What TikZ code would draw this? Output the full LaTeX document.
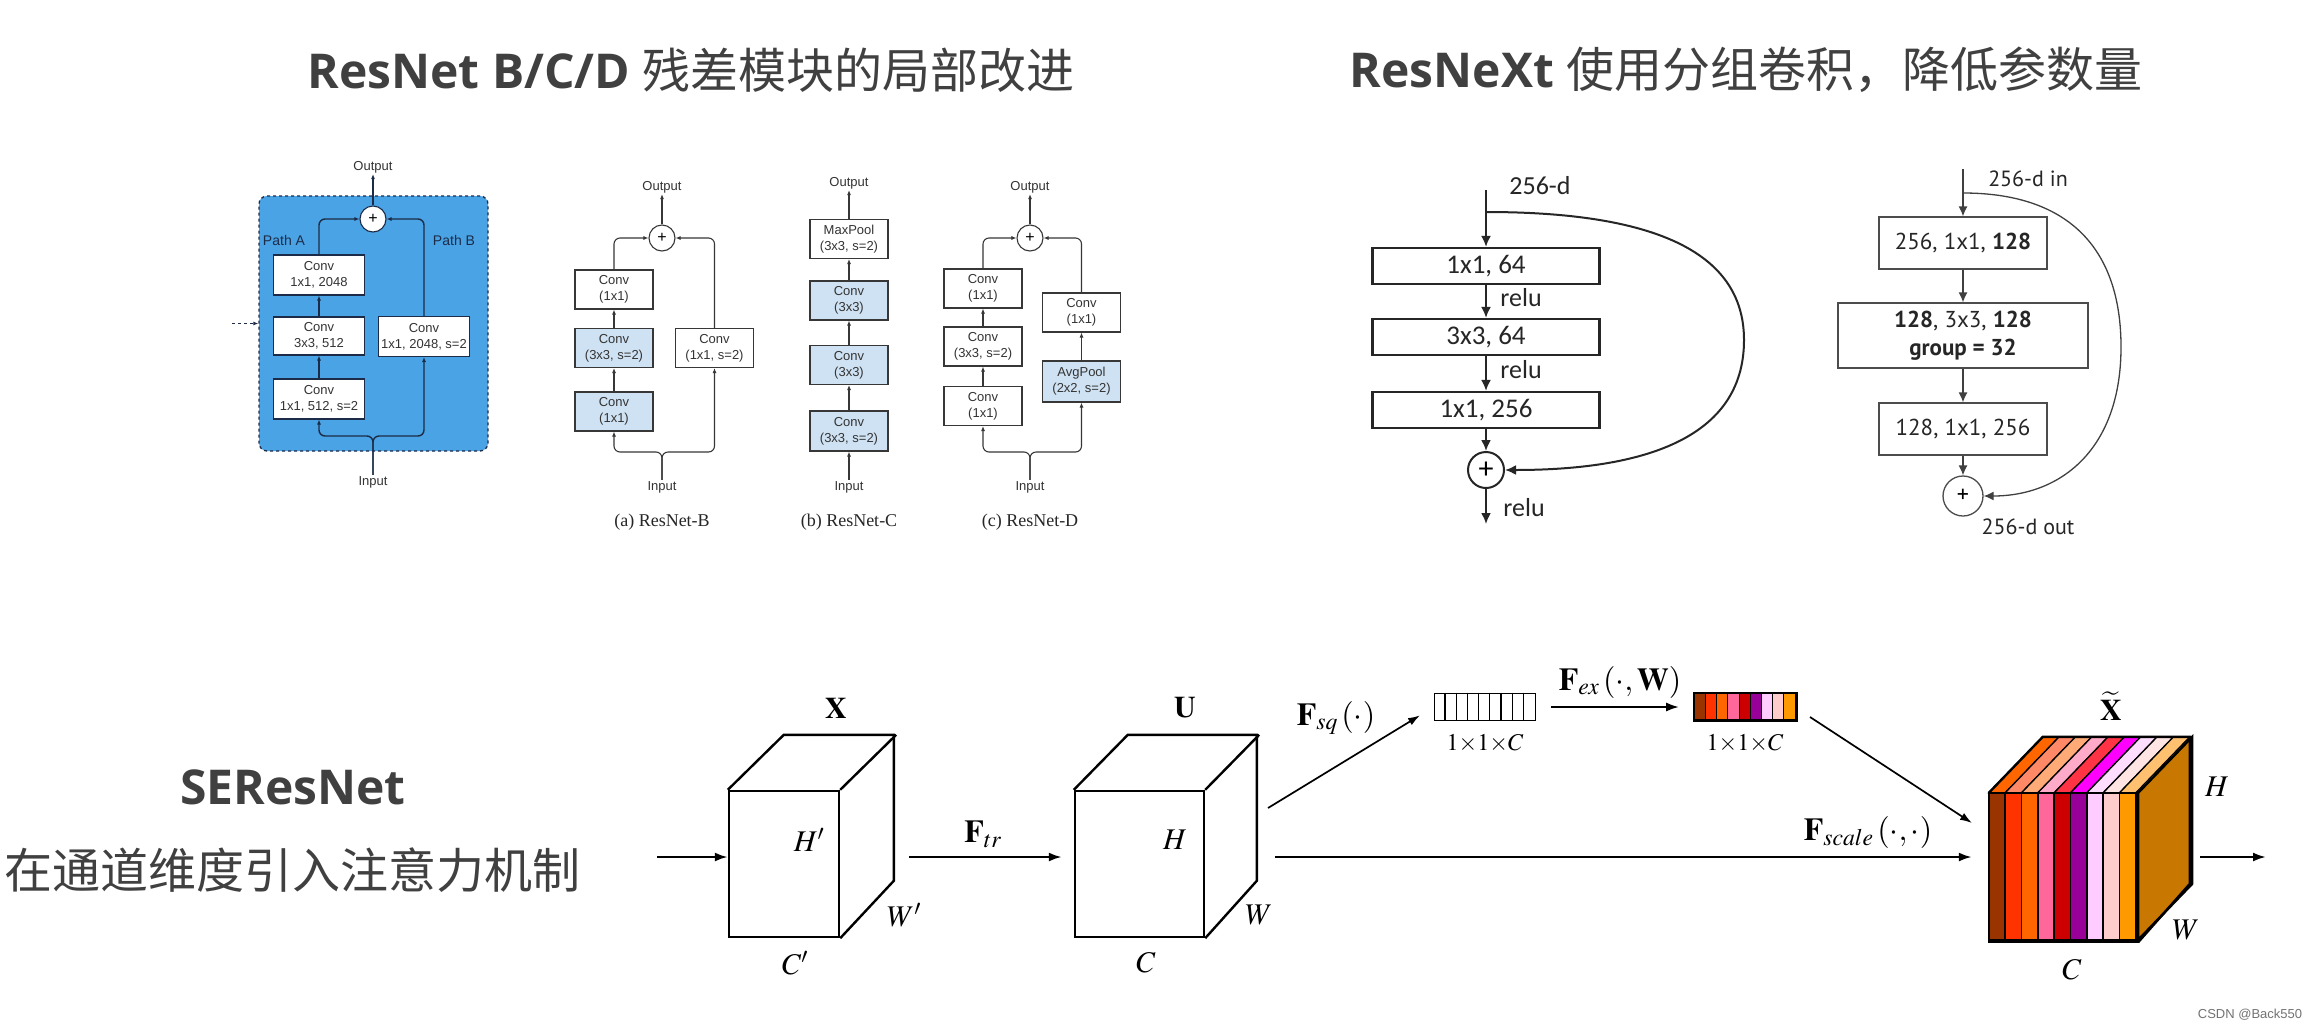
\documentclass[tikz,border=0pt]{standalone}
\usepackage{mathptmx}
\usepackage{fontspec}
\setmainfont{Liberation Serif}
\setsansfont{Liberation Sans}
\newfontfamily\cjk{Noto Sans CJK SC}
\newfontfamily\osans{Open Sans}
\newfontfamily\carl{Carlito}
\newfontfamily\ptsans{PT Sans}
\usetikzlibrary{arrows.meta, positioning, calc}

\definecolor{titlegray}{RGB}{64,64,64}
\definecolor{navy}{RGB}{28,44,72}
\definecolor{blockblue}{RGB}{74,163,229}
\definecolor{boxline}{RGB}{55,55,55}
\definecolor{boxblue}{RGB}{207,226,243}
\definecolor{rightface}{RGB}{200,120,0}
% front stripes / excitation vector
\definecolor{sca}{RGB}{153,51,0}
\definecolor{scb}{RGB}{255,51,0}
\definecolor{scc}{RGB}{255,102,0}
\definecolor{scd}{RGB}{255,102,153}
\definecolor{sce}{RGB}{204,0,0}
\definecolor{scf}{RGB}{153,0,153}
\definecolor{scg}{RGB}{255,204,255}
\definecolor{sch}{RGB}{255,204,204}
\definecolor{sci}{RGB}{255,153,0}
% top stripes
\definecolor{sta}{RGB}{255,102,0}
\definecolor{stb}{RGB}{255,136,102}
\definecolor{stc}{RGB}{255,170,119}
\definecolor{std}{RGB}{255,170,200}
\definecolor{ste}{RGB}{255,51,68}
\definecolor{stf}{RGB}{255,0,255}
\definecolor{stg}{RGB}{255,221,255}
\definecolor{sth}{RGB}{255,228,228}
\definecolor{sti}{RGB}{255,192,112}

\begin{document}
\begin{tikzpicture}[x=1pt, y=-1pt,
    ttl/.style={font=\fontsize{48}{52}\selectfont, text=titlegray, inner sep=0},
    blk/.style={rectangle, draw=navy, dashed, line width=1.3, fill=blockblue, rounded corners=8},
    conv/.style={rectangle, draw=boxline, line width=1.1, fill=white, minimum width=78, minimum height=39, inner sep=1, align=center, text=black!80, font=\sffamily\fontsize{13}{16}\selectfont},
    convb/.style={conv, fill=boxblue},
    conva/.style={conv, draw=navy, minimum width=91, minimum height=40},
    sumnode/.style={circle, draw=boxline, line width=1.1, fill=white, minimum size=26, inner sep=0, font=\sffamily\fontsize{16}{16}\selectfont},
    io/.style={inner sep=1, text=black!80, font=\sffamily\fontsize{13}{15}\selectfont},
    pathlbl/.style={inner sep=1, text=navy, font=\sffamily\fontsize{14}{16}\selectfont},
    captxt/.style={inner sep=1, text=black!85, font=\fontsize{18}{20}\selectfont},
    arrow/.style={-{Latex[length=5,width=4]}, line width=1.1, draw=boxline},
    navyarrow/.style={arrow, draw=navy, line width=1.4},
    xbox/.style={rectangle, draw=black!85, line width=2.2, minimum width=227, minimum height=36, inner sep=0, text=black!85, font=\carl\fontsize{27}{30}\selectfont},
    xsum/.style={circle, draw=black!85, line width=2, fill=white, minimum size=36, inner sep=0, font=\carl\fontsize{30}{30}\selectfont},
    xlbl/.style={inner sep=1, text=black!85, font=\carl\fontsize{26}{28}\selectfont},
    xarrow/.style={-{Latex[length=11,width=10]}, line width=2, draw=black!85},
    gbox/.style={rectangle, draw=black!70, line width=1.3, minimum width=168, minimum height=52, inner sep=2, align=center, text=black!85, font=\ptsans\fontsize{23}{28}\selectfont},
    gsum/.style={circle, draw=black!70, line width=1.3, fill=white, minimum size=40, inner sep=0, font=\ptsans\fontsize{24}{24}\selectfont},
    glbl/.style={inner sep=1, text=black!85, font=\ptsans\fontsize{22}{24}\selectfont},
    garrow/.style={-{Latex[length=10,width=9]}, line width=1.3, draw=black!75},
    face/.style={rectangle, draw=black, line width=2.4, fill=white, inner sep=0},
    vec/.style={rectangle, draw=black, line width=1.6, minimum width=101, minimum height=27, inner sep=0},
    cube/.style={draw=black, line width=2.4, line join=miter},
    searrow/.style={-{Latex[length=13,width=9]}, line width=2.3},
    thinarrow/.style={-{Latex[length=12,width=8]}, line width=1.7},
    selbl/.style={inner sep=0, font=\fontsize{30}{32}\selectfont},
    flbl/.style={inner sep=0, font=\fontsize{32}{34}\selectfont},
    dimlbl/.style={inner sep=0, font=\fontsize{24}{26}\selectfont}
  ]
  \useasboundingbox[fill=white] (0,0) rectangle (2313,1029);

  % titles
  \node[ttl] (ttlres) at (691,70) {{\osans\bfseries ResNet B/C/D} {\cjk 残差模块的局部改进}};
  \node[ttl] (ttlnext) at (1746,70) {{\osans\bfseries ResNeXt} {\cjk 使用分组卷积，降低参数量}};
  \node[ttl] (ttlse) at (293,787) {\osans\bfseries SEResNet};
  \node[ttl] (subse) at (293,870) {\cjk 在通道维度引入注意力机制};

  % block with path A / path B
  \node[blk, minimum width=229, minimum height=255] (blkA) at (373.5,323.5) {};
  \node[conva] (pa3) at (319,275) {Conv\\1x1, 2048};
  \node[conva, minimum height=38] (pa2) at (319,336) {Conv\\3x3, 512};
  \node[conva] (pa1) at (319,399) {Conv\\1x1, 512, s=2};
  \node[conva] (pb1) at (424,336.5) {Conv\\1x1, 2048, s=2};
  \node[sumnode, draw=navy] (sumA) at (373,219) {+};
  \node[pathlbl] (plA) at (284,240) {Path A};
  \node[pathlbl] (plB) at (454,240) {Path B};
  \node[io] (outA) at (373,167) {Output};
  \node[io] (inA) at (373,482) {Input};
  \coordinate (brA) at (373,436);
  \coordinate (dashA) at (232,323.5);
  \draw[navyarrow] (pa1) -- (pa2);
  \draw[navyarrow] (pa2) -- (pa3);
  \draw[navyarrow, rounded corners=6] (pa3.north) |- (sumA.west);
  \draw[navyarrow, rounded corners=6] (pb1.north) |- (sumA.east);
  \draw[navyarrow] (sumA) -- (outA);
  \draw[navyarrow, rounded corners=6] (inA.north) -- (brA) -| (pa1.south);
  \draw[navyarrow, rounded corners=6] (inA.north) -- (brA) -| (pb1.south);
  \draw[navyarrow, dashed] (dashA) -- (blkA.west);

  % ResNet-B
  \node[convb] (b1) at (614,411.5) {Conv\\(1x1)};
  \node[convb] (b2) at (614,348) {Conv\\(3x3, s=2)};
  \node[conv] (b3) at (614,289.5) {Conv\\(1x1)};
  \node[conv] (b4) at (714.5,348) {Conv\\(1x1, s=2)};
  \node[sumnode] (sumB) at (662,238) {+};
  \node[io] (outB) at (662,187) {Output};
  \node[io] (inB) at (662,487) {Input};
  \node[captxt] (capB) at (662,522) {(a) ResNet-B};
  \coordinate (brB) at (662,452);
  \draw[arrow] (b1) -- (b2);
  \draw[arrow] (b2) -- (b3);
  \draw[arrow, rounded corners=6] (b3.north) |- (sumB.west);
  \draw[arrow, rounded corners=6] (b4.north) |- (sumB.east);
  \draw[arrow] (sumB) -- (outB);
  \draw[arrow, rounded corners=6] (inB.north) -- (brB) -| (b1.south);
  \draw[arrow, rounded corners=6] (inB.north) -- (brB) -| (b4.south);

  % ResNet-C
  \node[convb, minimum height=40] (c1) at (849,431) {Conv\\(3x3, s=2)};
  \node[convb] (c2) at (849,365) {Conv\\(3x3)};
  \node[convb] (c3) at (849,300.5) {Conv\\(3x3)};
  \node[conv] (c4) at (849,239) {MaxPool\\(3x3, s=2)};
  \node[io] (outC) at (849,183) {Output};
  \node[io] (inC) at (849,487) {Input};
  \node[captxt] (capC) at (849,522) {(b) ResNet-C};
  \draw[arrow] (inC) -- (c1);
  \draw[arrow] (c1) -- (c2);
  \draw[arrow] (c2) -- (c3);
  \draw[arrow] (c3) -- (c4);
  \draw[arrow] (c4) -- (outC);

  % ResNet-D
  \node[conv] (d1) at (983,406) {Conv\\(1x1)};
  \node[conv] (d2) at (983,346.5) {Conv\\(3x3, s=2)};
  \node[conv] (d3) at (983,288.5) {Conv\\(1x1)};
  \node[convb, minimum height=41] (d4) at (1081.5,381.5) {AvgPool\\(2x2, s=2)};
  \node[conv] (d5) at (1081.5,312.5) {Conv\\(1x1)};
  \node[sumnode] (sumD) at (1030,238) {+};
  \node[io] (outD) at (1030,187) {Output};
  \node[io] (inD) at (1030,487) {Input};
  \node[captxt] (capD) at (1030,522) {(c) ResNet-D};
  \coordinate (brD) at (1030,452);
  \draw[arrow] (d1) -- (d2);
  \draw[arrow] (d2) -- (d3);
  \draw[arrow] (d4) -- (d5);
  \draw[arrow, rounded corners=6] (d3.north) |- (sumD.west);
  \draw[arrow, rounded corners=6] (d5.north) |- (sumD.east);
  \draw[arrow] (sumD) -- (outD);
  \draw[arrow, rounded corners=6] (inD.north) -- (brD) -| (d1.south);
  \draw[arrow, rounded corners=6] (inD.north) -- (brD) -| (d4.south);

  % ResNet bottleneck (ResNeXt left)
  \node[xbox] (x1) at (1486,266) {1x1, 64};
  \node[xbox] (x2) at (1486,337) {3x3, 64};
  \node[xbox] (x3) at (1486,410) {1x1, 256};
  \node[xsum] (sumX) at (1486,470) {+};
  \coordinate (xtop) at (1486,190);
  \coordinate (xsplit) at (1486,212);
  \coordinate (xout) at (1486,524);
  \node[xlbl] (xin) at (1540,186) {256-d};
  \node[xlbl] (relu1) at (1521,298) {relu};
  \node[xlbl] (relu2) at (1521,370) {relu};
  \node[xlbl] (relu3) at (1524,508) {relu};
  \draw[xarrow] (xtop) -- (x1);
  \draw[xarrow] (x1) -- (x2);
  \draw[xarrow] (x2) -- (x3);
  \draw[xarrow] (x3) -- (sumX);
  \draw[xarrow] (sumX) -- (xout);
  \draw[xarrow] (xsplit) .. controls (1650,212) and (1744,250) .. (1744,340)
    .. controls (1744,440) and (1640,470) .. (sumX.east);

  % ResNeXt block
  \node[gbox] (y1) at (1963,243) {256, 1x1, \textbf{128}};
  \node[gbox, minimum width=250, minimum height=65] (y2) at (1963,335.5) {\textbf{128}, 3x3, \textbf{128}\\\textbf{group = 32}};
  \node[gbox] (y3) at (1963,429) {128, 1x1, 256};
  \node[gsum] (sumY) at (1963,496) {+};
  \coordinate (ytop) at (1963,169);
  \coordinate (ysplit) at (1963,193);
  \node[glbl] (yin) at (2028,179) {256-d in};
  \node[glbl] (yout) at (2028,527) {256-d out};
  \draw[garrow] (ytop) -- (y1);
  \draw[garrow] (y1) -- (y2);
  \draw[garrow] (y2) -- (y3);
  \draw[garrow] (y3) -- (sumY);
  \draw[garrow] (ysplit) .. controls (2070,193) and (2121,250) .. (2121,347)
    .. controls (2121,450) and (2060,496) .. (sumY.east);

  % SE block
  \node[face, minimum width=110, minimum height=146] (Xf) at (784,864) {};
  \draw[cube] (Xf.north west) -- ++(56,-55) -- ++(110,0) -- ++(0,146) -- (Xf.south east);
  \draw[cube] (Xf.north east) -- ++(56,-55);
  \node[face, minimum width=129, minimum height=146] (Uf) at (1139.5,864) {};
  \draw[cube] (Uf.north west) -- ++(54,-55) -- ++(129,0) -- ++(0,146) -- (Uf.south east);
  \draw[cube] (Uf.north east) -- ++(54,-55);

  \node[face, draw=none, minimum width=147, minimum height=147] (Xtf) at (2063.5,867.5) {};
  \filldraw[cube, fill=rightface] (Xtf.north east) -- ++(54,-56) -- ++(0,147) -- ++(-54,56) -- cycle;
  \foreach \c [count=\i from 0] in {sta,stb,stc,std,ste,stf,stg,sth,sti}
    \filldraw[fill=\c, draw=black, line width=1.3] ($(Xtf.north west)+(\i*16.333,0)$) -- ++(16.333,0) -- ++(54,-56) -- ++(-16.333,0) -- cycle;
  \foreach \c [count=\i from 0] in {sca,scb,scc,scd,sce,scf,scg,sch,sci}
    \filldraw[fill=\c, draw=black, line width=1.5] ($(Xtf.north west)+(\i*16.333,0)$) rectangle ++(16.333,147);
  \draw[cube] (Xtf.north west) rectangle (Xtf.south east);
  \draw[cube] (Xtf.north west) -- ++(54,-56) -- ++(147,0) -- ++(0,147) -- (Xtf.south east);

  \node[vec] (zsq) at (1485,707) {};
  \foreach \i in {1,...,8}
    \draw[line width=1.2] ($(zsq.north west)+(\i*11.222,0)$) -- ++(0,27);
  \node[vec] (sex) at (1745.5,707) {};
  \foreach \c [count=\i from 0] in {sca,scb,scc,scd,sce,scf,scg,sch,sci}
    \filldraw[fill=\c, draw=black, line width=1] ($(sex.north west)+(\i*11.222,0)$) rectangle ++(11.222,27);
  \draw[line width=1.6] (sex.north west) rectangle (sex.south east);

  \coordinate (sein) at (657,857);
  \coordinate (trs) at (909,857);
  \coordinate (sqs) at (1268,808);
  \coordinate (scs) at (1275,857);
  \coordinate (exs) at (1810,717);
  \coordinate (exe) at (1972,823);
  \coordinate (seo) at (2200,857);
  \coordinate (seout) at (2266,857);
  \draw[searrow] (sein) -- (sein -| Xf.west);
  \draw[searrow, shorten >=12] (trs) -- (trs -| Uf.west);
  \draw[searrow, shorten >=17] (scs) -- (scs -| Xtf.west);
  \draw[thinarrow, shorten >=16] (sqs) -- (zsq.west);
  \draw[searrow, shorten <=15, shorten >=15] (zsq.east) -- (sex.west);
  \draw[thinarrow] (exs) -- (exe);
  \draw[searrow] (seo) -- (seout);

  \node[selbl] (lX) at (836,708) {$\mathbf{X}$};
  \node[selbl] (lHp) at (809,840) {$H'$};
  \node[selbl] (lWp) at (904,915) {$W'$};
  \node[selbl] (lCp) at (795,963) {$C'$};
  \node[flbl] (lFtr) at (983,834) {$\mathbf{F}_{tr}$};
  \node[selbl] (lU) at (1185,708) {$\mathbf{U}$};
  \node[selbl] (lH) at (1175,840) {$H$};
  \node[selbl] (lW) at (1259,915) {$W$};
  \node[selbl] (lC) at (1146,963) {$C$};
  \node[flbl] (lFsq) at (1336,718) {$\mathbf{F}_{sq}\,(\cdot)$};
  \node[flbl] (lFex) at (1620,682) {$\mathbf{F}_{ex}\,(\cdot,\mathbf{W})$};
  \node[dimlbl] (ldim1) at (1485,743) {$1{\times}1{\times}C$};
  \node[dimlbl] (ldim2) at (1745,743) {$1{\times}1{\times}C$};
  \node[selbl] (lXt) at (2111,706) {$\widetilde{\mathbf{X}}$};
  \node[selbl] (lHt) at (2217,787) {$H$};
  \node[selbl] (lWt) at (2186,930) {$W$};
  \node[selbl] (lCt) at (2072,970) {$C$};
  \node[flbl] (lFsc) at (1868,832) {$\mathbf{F}_{scale}\,(\cdot,\cdot)$};

  \node[inner sep=0, text=black!55, font=\sffamily\fontsize{13}{14}\selectfont] (mark) at (2250,1015) {CSDN @Back550};
\end{tikzpicture}
\end{document}
